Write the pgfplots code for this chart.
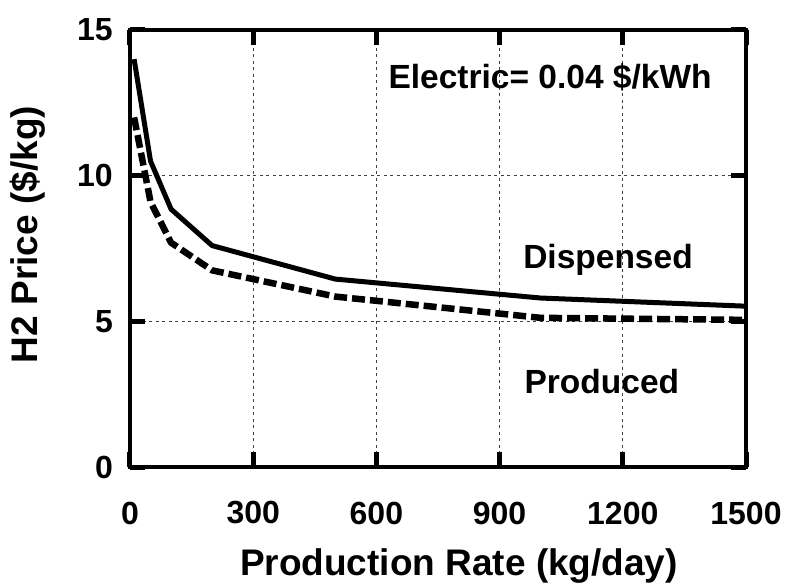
\documentclass[border=0pt]{standalone}
\usepackage{fontspec}
\setmainfont{Liberation Sans}
\usepackage{pgfplots}
\pgfplotsset{compat=1.18}
\begin{document}
\begin{tikzpicture}
\begin{axis}[
 width=616pt, height=437pt, scale only axis,
 xmin=0, xmax=1500, ymin=0, ymax=15,
 xtick={0,300,600,900,1200,1500},
 ytick={0,5,10,15},
 tick align=inside,
 major tick length=15pt,
 every tick/.style={line width=5pt, black},
 axis line style={line width=4.5pt},
 grid=major,
 major grid style={line width=1pt, dash pattern=on 3pt off 3.5pt, black!75},
 /pgf/number format/assume math mode=true,
 /pgf/number format/1000 sep={},
 tick label style={font=\fontsize{32}{36}\selectfont\bfseries, inner sep=0pt},
 xticklabel style={anchor=center, yshift=-46pt},
 yticklabel style={anchor=east, xshift=-17pt},
 xlabel={Production Rate (kg/day)},
 ylabel={H2 Price (\$/kg)},
 label style={font=\fontsize{37}{42}\selectfont\bfseries},
 xlabel style={at={(axis description cs:0.534,-0.226)}, anchor=center},
 ylabel style={at={(axis description cs:-0.166,0.532)}, anchor=center},
]
\addplot[line width=5pt, black, line join=round] coordinates {
 (10,14.0) (50,10.5) (100,8.85) (200,7.6) (500,6.45) (1000,5.8) (1500,5.52)
};
\addplot[line width=6.5pt, black, dash pattern=on 13pt off 5pt, line join=round] coordinates {
 (10,12.0) (50,9.1) (100,7.7) (200,6.75) (500,5.85) (1000,5.12) (1500,5.05)
};
\node[font=\fontsize{33.5}{38}\selectfont\bfseries] at (axis cs:1023,13.39) {Electric= 0.04 \$/kWh};
\node[font=\fontsize{33.5}{38}\selectfont\bfseries] at (axis cs:1164,7.1) {Dispensed};
\node[font=\fontsize{33.5}{38}\selectfont\bfseries] at (axis cs:1149,2.95) {Produced};
\end{axis}
\path ([xshift=-130pt,yshift=-117pt]current axis.south west) rectangle ([xshift=39pt,yshift=30pt]current axis.north east);
\end{tikzpicture}
\end{document}
